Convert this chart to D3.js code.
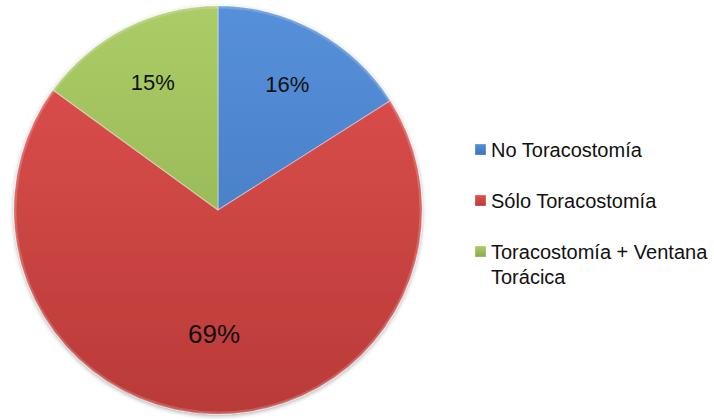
<!DOCTYPE html>
<html>
<head>
<meta charset="utf-8">
<script src="https://cdn.jsdelivr.net/npm/d3@7"></script>
<style>
  html, body { margin: 0; padding: 0; background: #fff; }
  svg { display: block; font-family: "Liberation Sans", Arial, sans-serif; }
</style>
</head>
<body>
<svg id="chart" width="714" height="419"></svg>
<script>
// Treatment groups and their share (%)
const categories = ["No Toracostomía", "Sólo Toracostomía", "Toracostomía + Ventana Torácica"];
const legendLines = [["No Toracostomía"], ["Sólo Toracostomía"], ["Toracostomía + Ventana", "Torácica"]];
const values = [16, 69, 15];
const colorsLight = ["#5690da", "#e0524f", "#abcc66"];
const colorsDark  = ["#3f72b8", "#b93a38", "#8aab4c"];

const svg = d3.select("#chart");
const cx = 218, cy = 210, r = 204;

const defs = svg.append("defs");
categories.forEach((c, i) => {
  // vertical shading of each slice, in page coordinates
  const g = defs.append("linearGradient")
    .attr("id", "grad" + i)
    .attr("gradientUnits", "userSpaceOnUse")
    .attr("x1", 0).attr("y1", cy - r).attr("x2", 0).attr("y2", cy + r);
  g.append("stop").attr("offset", "0%").attr("stop-color", colorsLight[i]);
  g.append("stop").attr("offset", "100%").attr("stop-color", colorsDark[i]);
  // shading for legend swatches
  const lg = defs.append("linearGradient")
    .attr("id", "lgrad" + i)
    .attr("x1", 0).attr("y1", 0).attr("x2", 0).attr("y2", 1);
  lg.append("stop").attr("offset", "0%").attr("stop-color", colorsLight[i]);
  lg.append("stop").attr("offset", "100%").attr("stop-color", colorsDark[i]);
});
const shadow = defs.append("filter").attr("id", "shadow")
  .attr("x", "-10%").attr("y", "-10%").attr("width", "120%").attr("height", "120%");
shadow.append("feDropShadow").attr("dx", 0).attr("dy", 1.5).attr("stdDeviation", 2)
  .attr("flood-color", "#000").attr("flood-opacity", 0.35);

const pie = d3.pie().sort(null).value(d => d);
const arcs = pie(values);

// slice outlines in page coordinates so the gradients span the whole pie
const slicePath = d => {
  const p = d3.path();
  p.moveTo(cx, cy);
  p.arc(cx, cy, r, d.startAngle - Math.PI / 2, d.endAngle - Math.PI / 2);
  p.closePath();
  return p.toString();
};

const pg = svg.append("g").attr("filter", "url(#shadow)");
pg.selectAll("path").data(arcs).join("path")
  .attr("d", slicePath)
  .attr("fill", (d, i) => `url(#grad${i})`)
  .attr("stroke", "rgba(255,255,255,0.35)")
  .attr("stroke-width", 1.2)
  .attr("stroke-linejoin", "round");

// soft bevel along the rim
svg.append("circle")
  .attr("cx", cx).attr("cy", cy).attr("r", r - 1.5)
  .attr("fill", "none")
  .attr("stroke", "rgba(255,255,255,0.18)")
  .attr("stroke-width", 2);

// percentage labels: the dominant slice gets a larger label placed nearer the centre
const isLarge = d => (d.endAngle - d.startAngle) > Math.PI;
const labelArcSmall = d3.arc().innerRadius(r * 0.705).outerRadius(r * 0.705);
const labelArcLarge = d3.arc().innerRadius(r * 0.61).outerRadius(r * 0.61);
svg.append("g").selectAll("text").data(arcs).join("text")
  .attr("transform", d => {
    const [x, y] = (isLarge(d) ? labelArcLarge : labelArcSmall).centroid(d);
    return `translate(${cx + x},${cy + y})`;
  })
  .attr("text-anchor", "middle")
  .attr("dy", "0.35em")
  .attr("font-size", d => isLarge(d) ? 26 : 22)
  .attr("fill", "#111")
  .text(d => d.value + "%");

// legend
const legendY = d3.scalePoint().domain(categories).range([157, 259]);
const leg = svg.append("g");
categories.forEach((c, i) => {
  const y = legendY(c);
  leg.append("rect")
    .attr("x", 475).attr("y", y - 13)
    .attr("width", 11).attr("height", 11)
    .attr("fill", `url(#lgrad${i})`)
    .attr("stroke", "rgba(255,255,255,0.5)")
    .attr("stroke-width", 0.6);
  const t = leg.append("text")
    .attr("x", 491).attr("y", y)
    .attr("font-size", 20)
    .attr("fill", "#111");
  legendLines[i].forEach((line, j) => {
    t.append("tspan").attr("x", 491).attr("dy", j === 0 ? 0 : 25).text(line);
  });
});
</script>
</body>
</html>
